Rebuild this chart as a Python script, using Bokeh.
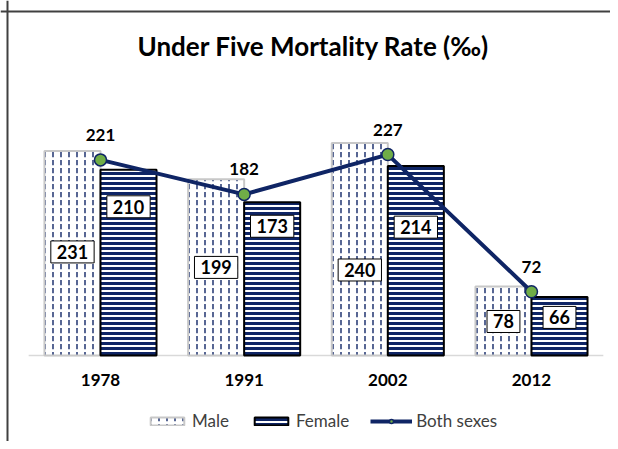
from bokeh.plotting import figure
from bokeh.models import Range1d, Label, Span, Legend, ColumnDataSource
from bokeh.core.properties import value
from bokeh.embed import file_html
from bokeh.resources import INLINE

# ---- data ----
years = ["1978", "1991", "2002", "2012"]
male = [231, 199, 240, 78]
female = [210, 173, 214, 66]
both = [221, 182, 227, 72]

# label placement (data units, manual like the original)
male_label_y = [117, 99.5, 96.6, 38.4]
female_label_y = [168, 146, 145, 43]

FONT = "Lato"
NAVY = "#0f2565"

X0, X1 = -0.696, 3.550
Y0, Y1 = -97.2, 401.1

idx = list(range(len(years)))
bw = 0.39
xm = [i - bw / 2 for i in idx]
xf = [i + bw / 2 for i in idx]

p = figure(width=610, height=441, output_backend="svg", toolbar_location=None,
           x_range=Range1d(X0, X1), y_range=Range1d(Y0, Y1),
           min_border=0, min_border_left=0, min_border_right=0,
           min_border_top=0, min_border_bottom=0)
p.xaxis.visible = False
p.yaxis.visible = False
p.xgrid.visible = False
p.ygrid.visible = False
p.outline_line_color = None
p.background_fill_color = "white"
p.border_fill_color = "white"

# chart border (left / top visible)
p.add_layout(Span(location=X0 + 7.0 / 143.67, dimension="height",
                  line_color="#404040", line_width=2))
p.add_layout(Span(location=Y1 - 11.0 / 0.885, dimension="width",
                  line_color="#404040", line_width=2))

# baseline
p.segment(x0=[-0.5], y0=[0], x1=[len(years) - 0.5], y1=[0],
          line_color="#d9d9d9", line_width=1.5)

src = ColumnDataSource(dict(xm=xm, xf=xf, x=idx, male=male, female=female,
                            both=both, years=years,
                            ml=[str(v) for v in male], fl=[str(v) for v in female],
                            bl=[str(v) for v in both],
                            mly=male_label_y, fly=female_label_y))

rm = p.vbar(x="xm", top="male", width=bw, bottom=0, source=src,
            fill_color="white", line_color="#c8c8c8", line_width=2,
            hatch_pattern="vertical_dash", hatch_color=NAVY,
            hatch_scale=8, hatch_weight=1.4)
rf = p.vbar(x="xf", top="female", width=bw, bottom=0, source=src,
            fill_color="white", line_color="black", line_width=2,
            hatch_pattern="horizontal_line", hatch_color=NAVY,
            hatch_scale=5, hatch_weight=3)

rl = p.line(x="x", y="both", source=src, line_color=NAVY, line_width=4)
rs = p.scatter(x="x", y="both", source=src, size=12, marker="circle",
               fill_color="#70ad47", line_color=NAVY, line_width=1.5)

# bar value labels
for xcol, ycol, tcol in (("xm", "mly", "ml"), ("xf", "fly", "fl")):
    p.text(x=xcol, y=ycol, text=tcol, source=src,
           text_font=value(FONT), text_font_style="bold", text_font_size="18px",
           text_color="black", text_align="center", text_baseline="middle",
           background_fill_color="white", border_line_color="black",
           border_line_width=1, padding=dict(left=6, right=6, top=4, bottom=4))

# line labels
p.text(x="x", y="both", text="bl", source=src, y_offset=-25,
       text_font=value(FONT), text_font_style="bold", text_font_size="17px",
       text_color="black", text_align="center", text_baseline="middle")

# category labels
p.text(x="x", y=-28.2, text="years", source=src,
       text_font=value(FONT), text_font_style="bold", text_font_size="17px",
       text_color="black", text_align="center", text_baseline="middle")

# title
p.add_layout(Label(x=313, y=441 - 45, x_units="screen", y_units="screen",
                   text="Under Five Mortality Rate (‰)",
                   text_font=FONT, text_font_style="bold", text_font_size="26px",
                   text_color="black", text_align="center", text_baseline="middle"))

legend = Legend(items=[("Male", [rm]), ("Female", [rf]), ("Both sexes", [rl, rs])],
                location=(146, 10), orientation="horizontal",
                padding=0, margin=0, spacing=21, label_standoff=4,
                glyph_width=42, glyph_height=10, label_height=20,
                label_text_font=FONT, label_text_font_size="17px",
                label_text_color="#404040",
                border_line_color=None, background_fill_alpha=0)
p.add_layout(legend)

open("out.html", "w").write(file_html(p, INLINE))
